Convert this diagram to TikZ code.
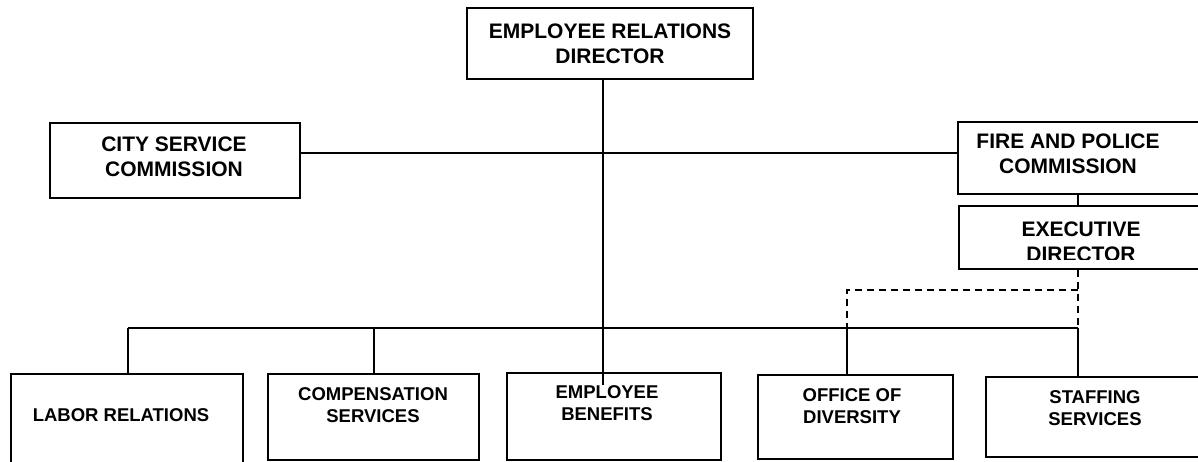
\documentclass[tikz,border=0pt]{standalone}
\usepackage{fontspec}
\setmainfont{Liberation Sans}

\begin{document}
\begin{tikzpicture}
	[x=1pt,y=-1pt,line width=1.7pt,
	box/.style={draw,rectangle,anchor=north west,inner sep=0pt},
	head/.style={font=\fontsize{21}{25}\selectfont\bfseries,align=center,inner sep=0pt},
	unit/.style={font=\fontsize{18.5}{21.5}\selectfont\bfseries,align=center,inner sep=0pt},
	dotline/.style={dash pattern=on 7pt off 5pt}]
	
	\useasboundingbox (0,0) rectangle (1198,461);
	\clip (0,0) rectangle (1198,461);
	
	% top row
	\node[box,minimum width=286pt,minimum height=71pt] (erd) at (466,7) {};
	\node[head] (erd-text) at (610,44) {EMPLOYEE RELATIONS\\DIRECTOR};
	\node[box,minimum width=250pt,minimum height=75pt] (csc) at (49,122) {};
	\node[head] (csc-text) at (174,157) {CITY SERVICE\\COMMISSION};
	\node[box,minimum width=253pt,minimum height=72pt] (fpc) at (957,121) {};
	\node[head] (fpc-text) at (1068,154) {FIRE AND POLICE\\COMMISSION};
	\node[box,minimum width=252pt,minimum height=63pt] (exd) at (958,205) {};
	\begin{scope}
		\clip (exd.north west) rectangle ([yshift=10pt]exd.south east);
		\node[head] (exd-text) at (1081,242) {EXECUTIVE\\DIRECTOR};
	\end{scope}
	
	% bottom row
	\node[box,minimum width=232pt,minimum height=107pt] (lab) at (10,373) {};
	\node[unit] (lab-text) at (121,415) {LABOR RELATIONS};
	\node[box,minimum width=211pt,minimum height=86pt] (cmp) at (267,373) {};
	\node[unit] (cmp-text) at (373,405) {COMPENSATION\\SERVICES};
	\node[box,minimum width=214pt,minimum height=87pt] (ben) at (506,372) {};
	\node[unit] (ben-text) at (607,403) {EMPLOYEE\\BENEFITS};
	\node[box,minimum width=195pt,minimum height=84pt] (div) at (757,374) {};
	\node[unit] (div-text) at (852,406) {OFFICE OF\\DIVERSITY};
	\node[box,minimum width=220pt,minimum height=80pt] (stf) at (985,376) {};
	\node[unit] (stf-text) at (1095,408) {STAFFING\\SERVICES};
	
	% connectors
	\coordinate (spine) at (603,385);
	\coordinate (cross) at (603,153);
	\coordinate (busL) at (128,328);
	\coordinate (busR) at (1078,328);
	\coordinate (cmptap) at (374,328);
	\coordinate (divtap) at (847,290);
	
	\draw (erd.south -| spine) -- (spine);
	\draw (csc.east |- cross) -- (fpc.west |- cross);
	\draw (busL) -- (busR);
	\draw (busL) -- (busL |- lab.north);
	\draw (cmptap) -- (cmptap |- cmp.north);
	\draw (fpc.south -| busR) -- (exd.north -| busR);
	\draw[dotline] (exd.south -| busR) -- (busR);
	\draw[dotline] (busR |- divtap) -- (divtap) -- (divtap |- busL);
	\draw (divtap |- busL) -- (divtap |- div.north);
	\draw (busR) -- (busR |- stf.north);
	
\end{tikzpicture}
\end{document}
